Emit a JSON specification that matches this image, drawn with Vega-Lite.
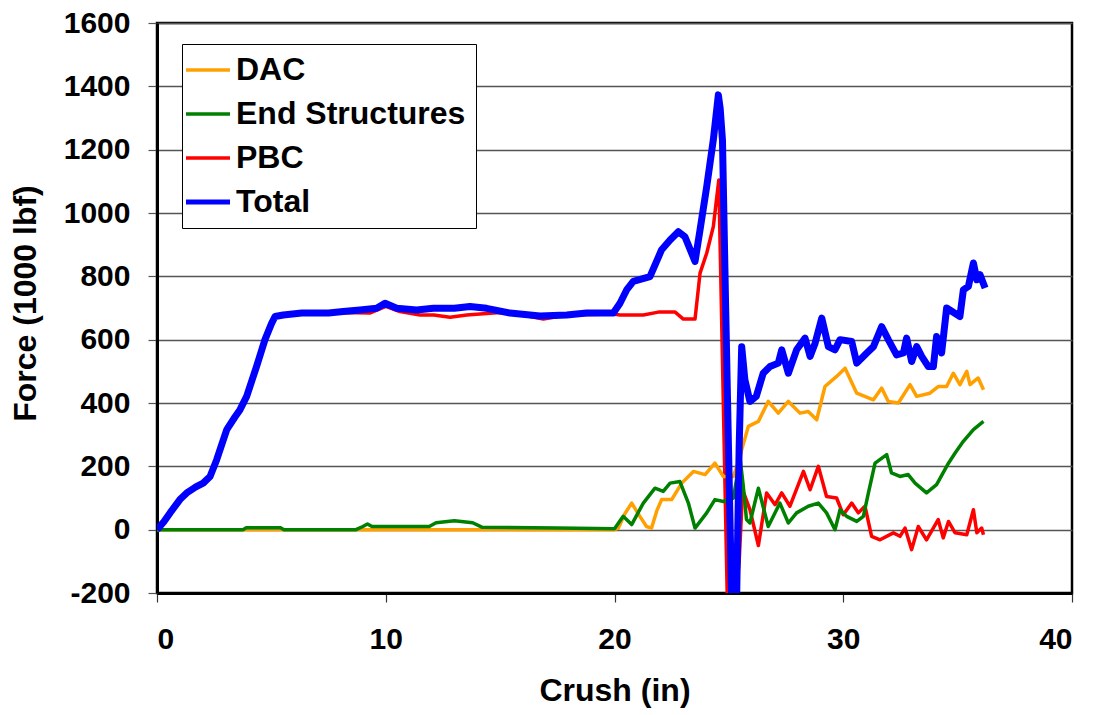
{
"$schema": "https://vega.github.io/schema/vega-lite/v6.json",
"width": 915,
"height": 570,
"autosize": {"type": "none"},
"padding": {"left": 157, "top": 23, "right": 23, "bottom": 122},
"background": "white",
"config": {"view": {"stroke": "black", "strokeWidth": 2.5}, "font": "Liberation Sans"},
"data": {"values": [
{"s":"Total","x":0,"y":0},{"s":"Total","x":0.3,"y":25},{"s":"Total","x":0.57,"y":53},{"s":"Total","x":1.0,"y":95},{"s":"Total","x":1.3,"y":116},{"s":"Total","x":1.7,"y":135},{"s":"Total","x":2.02,"y":147},{"s":"Total","x":2.32,"y":168},{"s":"Total","x":2.61,"y":221},{"s":"Total","x":3.05,"y":316},{"s":"Total","x":3.4,"y":355},{"s":"Total","x":3.63,"y":379},{"s":"Total","x":3.92,"y":421},{"s":"Total","x":4.35,"y":515},{"s":"Total","x":4.72,"y":600},{"s":"Total","x":5.0,"y":650},{"s":"Total","x":5.16,"y":673},{"s":"Total","x":5.52,"y":678},{"s":"Total","x":6.33,"y":684},{"s":"Total","x":7.5,"y":684},{"s":"Total","x":8.14,"y":689},{"s":"Total","x":8.87,"y":694},{"s":"Total","x":9.6,"y":699},{"s":"Total","x":9.97,"y":715},{"s":"Total","x":10.48,"y":699},{"s":"Total","x":11.35,"y":694},{"s":"Total","x":12.08,"y":699},{"s":"Total","x":13.0,"y":699},{"s":"Total","x":13.68,"y":705},{"s":"Total","x":14.41,"y":699},{"s":"Total","x":15.43,"y":684},{"s":"Total","x":16.74,"y":675},{"s":"Total","x":17.91,"y":678},{"s":"Total","x":18.78,"y":684},{"s":"Total","x":19.95,"y":684},{"s":"Total","x":20.24,"y":715},{"s":"Total","x":20.53,"y":757},{"s":"Total","x":20.82,"y":784},{"s":"Total","x":21.55,"y":799},{"s":"Total","x":22.06,"y":884},{"s":"Total","x":22.43,"y":915},{"s":"Total","x":22.79,"y":941},{"s":"Total","x":23.08,"y":925},{"s":"Total","x":23.52,"y":847},{"s":"Total","x":23.74,"y":947},{"s":"Total","x":24.03,"y":1083},{"s":"Total","x":24.32,"y":1231},{"s":"Total","x":24.54,"y":1373},{"s":"Total","x":24.62,"y":1330},{"s":"Total","x":24.72,"y":1230},{"s":"Total","x":24.86,"y":700},{"s":"Total","x":25.0,"y":200},{"s":"Total","x":25.12,"y":-215},{"s":"Total","x":25.34,"y":-215},{"s":"Total","x":25.45,"y":263},{"s":"Total","x":25.56,"y":578},{"s":"Total","x":25.7,"y":473},{"s":"Total","x":25.92,"y":405},{"s":"Total","x":26.2,"y":421},{"s":"Total","x":26.5,"y":494},{"s":"Total","x":26.8,"y":515},{"s":"Total","x":27.16,"y":526},{"s":"Total","x":27.31,"y":568},{"s":"Total","x":27.6,"y":494},{"s":"Total","x":27.96,"y":568},{"s":"Total","x":28.33,"y":605},{"s":"Total","x":28.55,"y":547},{"s":"Total","x":28.77,"y":589},{"s":"Total","x":29.06,"y":668},{"s":"Total","x":29.35,"y":578},{"s":"Total","x":29.64,"y":568},{"s":"Total","x":29.86,"y":600},{"s":"Total","x":30.37,"y":594},{"s":"Total","x":30.59,"y":526},{"s":"Total","x":31.03,"y":558},{"s":"Total","x":31.32,"y":578},{"s":"Total","x":31.68,"y":641},{"s":"Total","x":31.97,"y":600},{"s":"Total","x":32.33,"y":552},{"s":"Total","x":32.63,"y":558},{"s":"Total","x":32.77,"y":605},{"s":"Total","x":32.99,"y":531},{"s":"Total","x":33.21,"y":578},{"s":"Total","x":33.43,"y":547},{"s":"Total","x":33.72,"y":515},{"s":"Total","x":33.94,"y":515},{"s":"Total","x":34.08,"y":610},{"s":"Total","x":34.3,"y":558},{"s":"Total","x":34.52,"y":700},{"s":"Total","x":35.1,"y":673},{"s":"Total","x":35.25,"y":757},{"s":"Total","x":35.47,"y":768},{"s":"Total","x":35.69,"y":842},{"s":"Total","x":35.84,"y":789},{"s":"Total","x":35.98,"y":805},{"s":"Total","x":36.2,"y":763},
{"s":"PBC","x":0,"y":0},{"s":"PBC","x":0.3,"y":25},{"s":"PBC","x":0.57,"y":53},{"s":"PBC","x":1.0,"y":95},{"s":"PBC","x":1.3,"y":116},{"s":"PBC","x":1.7,"y":135},{"s":"PBC","x":2.02,"y":147},{"s":"PBC","x":2.32,"y":168},{"s":"PBC","x":2.61,"y":221},{"s":"PBC","x":3.05,"y":316},{"s":"PBC","x":3.4,"y":355},{"s":"PBC","x":3.63,"y":379},{"s":"PBC","x":3.92,"y":421},{"s":"PBC","x":4.35,"y":515},{"s":"PBC","x":4.72,"y":600},{"s":"PBC","x":5.0,"y":650},{"s":"PBC","x":5.16,"y":673},{"s":"PBC","x":5.52,"y":678},{"s":"PBC","x":6.33,"y":684},{"s":"PBC","x":7.5,"y":684},{"s":"PBC","x":8.14,"y":686},{"s":"PBC","x":9.3,"y":684},{"s":"PBC","x":10.0,"y":705},{"s":"PBC","x":10.62,"y":689},{"s":"PBC","x":11.5,"y":678},{"s":"PBC","x":12.1,"y":678},{"s":"PBC","x":12.81,"y":671},{"s":"PBC","x":13.54,"y":678},{"s":"PBC","x":15.0,"y":686},{"s":"PBC","x":16.0,"y":678},{"s":"PBC","x":16.89,"y":665},{"s":"PBC","x":17.91,"y":678},{"s":"PBC","x":19.95,"y":681},{"s":"PBC","x":20.24,"y":678},{"s":"PBC","x":21.26,"y":678},{"s":"PBC","x":21.92,"y":687},{"s":"PBC","x":22.65,"y":687},{"s":"PBC","x":23.01,"y":665},{"s":"PBC","x":23.52,"y":665},{"s":"PBC","x":23.74,"y":810},{"s":"PBC","x":24.03,"y":873},{"s":"PBC","x":24.32,"y":957},{"s":"PBC","x":24.56,"y":1104},{"s":"PBC","x":24.93,"y":-215},{"s":"PBC","x":25.3,"y":-215},{"s":"PBC","x":25.45,"y":-100},{"s":"PBC","x":25.6,"y":126},{"s":"PBC","x":25.92,"y":63},{"s":"PBC","x":26.29,"y":-50},{"s":"PBC","x":26.65,"y":116},{"s":"PBC","x":27.02,"y":79},{"s":"PBC","x":27.31,"y":116},{"s":"PBC","x":27.67,"y":74},{"s":"PBC","x":28.26,"y":184},{"s":"PBC","x":28.55,"y":126},{"s":"PBC","x":28.91,"y":200},{"s":"PBC","x":29.27,"y":105},{"s":"PBC","x":29.71,"y":100},{"s":"PBC","x":30.0,"y":47},{"s":"PBC","x":30.37,"y":84},{"s":"PBC","x":30.66,"y":53},{"s":"PBC","x":30.95,"y":74},{"s":"PBC","x":31.24,"y":-21},{"s":"PBC","x":31.61,"y":-32},{"s":"PBC","x":32.19,"y":-10},{"s":"PBC","x":32.48,"y":-21},{"s":"PBC","x":32.7,"y":5},{"s":"PBC","x":32.99,"y":-63},{"s":"PBC","x":33.28,"y":10},{"s":"PBC","x":33.64,"y":-32},{"s":"PBC","x":34.15,"y":32},{"s":"PBC","x":34.37,"y":-26},{"s":"PBC","x":34.6,"y":26},{"s":"PBC","x":34.89,"y":-10},{"s":"PBC","x":35.4,"y":-16},{"s":"PBC","x":35.69,"y":63},{"s":"PBC","x":35.84,"y":-10},{"s":"PBC","x":36.05,"y":5},{"s":"PBC","x":36.13,"y":-16},
{"s":"DAC","x":0,"y":0},{"s":"DAC","x":20.0,"y":0},{"s":"DAC","x":20.17,"y":5},{"s":"DAC","x":20.45,"y":50},{"s":"DAC","x":20.75,"y":84},{"s":"DAC","x":21.11,"y":42},{"s":"DAC","x":21.4,"y":10},{"s":"DAC","x":21.62,"y":5},{"s":"DAC","x":21.85,"y":60},{"s":"DAC","x":22.06,"y":95},{"s":"DAC","x":22.5,"y":95},{"s":"DAC","x":22.94,"y":147},{"s":"DAC","x":23.45,"y":184},{"s":"DAC","x":23.96,"y":174},{"s":"DAC","x":24.39,"y":210},{"s":"DAC","x":24.76,"y":168},{"s":"DAC","x":25.2,"y":168},{"s":"DAC","x":25.49,"y":231},{"s":"DAC","x":25.56,"y":252},{"s":"DAC","x":25.85,"y":326},{"s":"DAC","x":26.29,"y":342},{"s":"DAC","x":26.72,"y":405},{"s":"DAC","x":27.16,"y":368},{"s":"DAC","x":27.6,"y":405},{"s":"DAC","x":28.11,"y":368},{"s":"DAC","x":28.47,"y":373},{"s":"DAC","x":28.84,"y":347},{"s":"DAC","x":29.2,"y":452},{"s":"DAC","x":29.71,"y":484},{"s":"DAC","x":30.08,"y":510},{"s":"DAC","x":30.59,"y":431},{"s":"DAC","x":31.32,"y":410},{"s":"DAC","x":31.68,"y":447},{"s":"DAC","x":31.97,"y":405},{"s":"DAC","x":32.41,"y":400},{"s":"DAC","x":32.92,"y":458},{"s":"DAC","x":33.21,"y":421},{"s":"DAC","x":33.79,"y":431},{"s":"DAC","x":34.15,"y":452},{"s":"DAC","x":34.52,"y":452},{"s":"DAC","x":34.81,"y":494},{"s":"DAC","x":35.1,"y":458},{"s":"DAC","x":35.4,"y":500},{"s":"DAC","x":35.54,"y":458},{"s":"DAC","x":35.9,"y":479},{"s":"DAC","x":36.13,"y":442},
{"s":"End Structures","x":0,"y":0},{"s":"End Structures","x":3.76,"y":0},{"s":"End Structures","x":3.9,"y":6},{"s":"End Structures","x":5.4,"y":6},{"s":"End Structures","x":5.55,"y":0},{"s":"End Structures","x":8.7,"y":0},{"s":"End Structures","x":9.0,"y":10},{"s":"End Structures","x":9.2,"y":18},{"s":"End Structures","x":9.4,"y":10},{"s":"End Structures","x":11.9,"y":10},{"s":"End Structures","x":12.2,"y":22},{"s":"End Structures","x":13.0,"y":28},{"s":"End Structures","x":13.8,"y":22},{"s":"End Structures","x":14.2,"y":8},{"s":"End Structures","x":17.5,"y":5},{"s":"End Structures","x":20.0,"y":3},{"s":"End Structures","x":20.38,"y":42},{"s":"End Structures","x":20.75,"y":16},{"s":"End Structures","x":21.26,"y":84},{"s":"End Structures","x":21.77,"y":131},{"s":"End Structures","x":22.13,"y":121},{"s":"End Structures","x":22.43,"y":147},{"s":"End Structures","x":22.86,"y":152},{"s":"End Structures","x":23.23,"y":84},{"s":"End Structures","x":23.52,"y":5},{"s":"End Structures","x":24.03,"y":53},{"s":"End Structures","x":24.39,"y":95},{"s":"End Structures","x":24.76,"y":89},{"s":"End Structures","x":25.2,"y":100},{"s":"End Structures","x":25.49,"y":226},{"s":"End Structures","x":25.63,"y":137},{"s":"End Structures","x":25.77,"y":32},{"s":"End Structures","x":25.92,"y":21},{"s":"End Structures","x":26.29,"y":131},{"s":"End Structures","x":26.72,"y":10},{"s":"End Structures","x":27.23,"y":84},{"s":"End Structures","x":27.6,"y":21},{"s":"End Structures","x":27.96,"y":53},{"s":"End Structures","x":28.47,"y":74},{"s":"End Structures","x":28.91,"y":84},{"s":"End Structures","x":29.27,"y":53},{"s":"End Structures","x":29.64,"y":0},{"s":"End Structures","x":29.86,"y":63},{"s":"End Structures","x":30.15,"y":42},{"s":"End Structures","x":30.59,"y":26},{"s":"End Structures","x":30.88,"y":42},{"s":"End Structures","x":31.1,"y":116},{"s":"End Structures","x":31.39,"y":210},{"s":"End Structures","x":31.9,"y":237},{"s":"End Structures","x":32.11,"y":179},{"s":"End Structures","x":32.48,"y":168},{"s":"End Structures","x":32.84,"y":174},{"s":"End Structures","x":33.14,"y":147},{"s":"End Structures","x":33.64,"y":116},{"s":"End Structures","x":34.08,"y":142},{"s":"End Structures","x":34.6,"y":210},{"s":"End Structures","x":34.89,"y":242},{"s":"End Structures","x":35.25,"y":279},{"s":"End Structures","x":35.69,"y":316},{"s":"End Structures","x":36.13,"y":342}
]},
"encoding": {
  "x": {"field": "x", "type": "quantitative",
    "scale": {"domain": [0, 40], "nice": false},
    "axis": {"title": "Crush (in)", "values": [0, 10, 20, 30, 40], "grid": false,
      "labelExpr": "'' + datum.value",
      "domainColor": "black", "domainWidth": 3, "tickColor": "#333333", "tickWidth": 1.2, "tickSize": 9,
      "labelFontSize": 30, "labelFontWeight": "bold", "labelColor": "black", "labelPadding": 22,
      "titleFontSize": 32, "titleFontWeight": "bold", "titleColor": "black",
      "titleY": 97, "titleBaseline": "middle"}},
  "y": {"field": "y", "type": "quantitative",
    "scale": {"domain": [-200, 1600], "nice": false},
    "axis": {"title": "Force (1000 lbf)", "values": [-200, 0, 200, 400, 600, 800, 1000, 1200, 1400, 1600],
      "labelExpr": "'' + datum.value",
      "grid": true, "gridColor": "#555555", "gridWidth": 1.5,
      "domainColor": "black", "domainWidth": 3, "tickColor": "#555555", "tickWidth": 1.2, "tickSize": 9,
      "labelFontSize": 30, "labelFontWeight": "bold", "labelColor": "black", "labelPadding": 18,
      "titleFontSize": 32, "titleFontWeight": "bold", "titleColor": "black",
      "titleX": -132, "titleY": 280, "titleBaseline": "middle", "titleAlign": "center", "titleAngle": -90}},
  "color": {"field": "s", "type": "nominal",
    "scale": {"domain": ["DAC", "End Structures", "PBC", "Total"], "range": ["#FFA000", "#008000", "#FF0000", "#0000FF"]},
    "legend": {"title": null, "orient": "none", "legendX": 25, "legendY": 21,
      "symbolType": "stroke", "symbolSize": 1936, "symbolStrokeWidth": 3.5,
      "labelFontSize": 32, "labelFontWeight": "bold", "labelColor": "black", "labelOffset": 12, "labelLimit": 500,
      "rowPadding": 12, "padding": 10, "strokeColor": "black", "fillColor": "white", "cornerRadius": 0,
      "encode": {"symbols": {"update": {"strokeWidth": {"signal": "datum.value === 'Total' ? 5 : 3.5"}}}}}}
},
"layer": [
  {"transform": [{"filter": "datum.s !== 'Total'"}],
   "mark": {"type": "line", "strokeWidth": 3.5, "clip": true, "strokeJoin": "round"}},
  {"transform": [{"filter": "datum.s === 'Total'"}],
   "mark": {"type": "line", "strokeWidth": 7, "clip": true, "strokeJoin": "round"}}
]
}
